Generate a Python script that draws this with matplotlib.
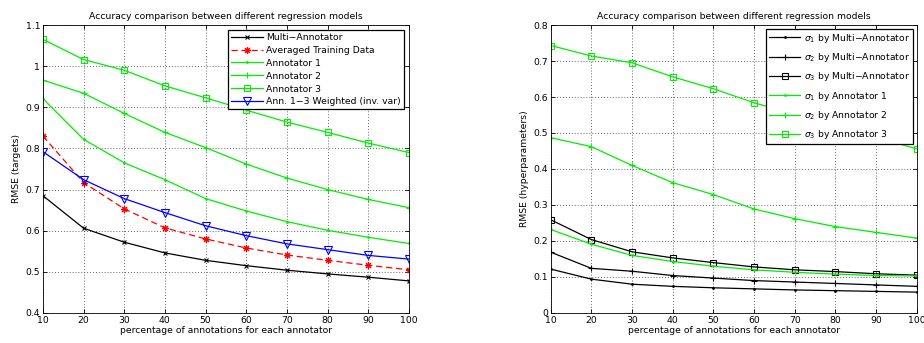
import matplotlib
matplotlib.use('Agg')
import matplotlib.pyplot as plt

pct = [10, 20, 30, 40, 50, 60, 70, 80, 90, 100]

# left panel: RMSE on targets
multi_ann = [0.685, 0.606, 0.572, 0.546, 0.528, 0.515, 0.504, 0.495, 0.487, 0.478]
averaged = [0.830, 0.717, 0.653, 0.607, 0.580, 0.558, 0.541, 0.528, 0.516, 0.505]
ann1 = [0.921, 0.822, 0.765, 0.724, 0.678, 0.648, 0.622, 0.601, 0.584, 0.569]
ann2 = [0.966, 0.934, 0.885, 0.839, 0.802, 0.762, 0.728, 0.700, 0.676, 0.656]
ann3 = [1.065, 1.016, 0.990, 0.952, 0.923, 0.893, 0.864, 0.839, 0.813, 0.790]
weighted = [0.792, 0.724, 0.678, 0.644, 0.612, 0.588, 0.568, 0.554, 0.540, 0.531]

# right panel: RMSE on hyperparameters
s1_multi = [0.122, 0.094, 0.080, 0.074, 0.070, 0.067, 0.064, 0.062, 0.060, 0.058]
s2_multi = [0.169, 0.124, 0.116, 0.104, 0.097, 0.090, 0.086, 0.082, 0.078, 0.074]
s3_multi = [0.259, 0.204, 0.170, 0.153, 0.140, 0.128, 0.120, 0.115, 0.109, 0.105]
s1_ann1 = [0.232, 0.191, 0.160, 0.143, 0.130, 0.120, 0.113, 0.108, 0.104, 0.103]
s2_ann2 = [0.487, 0.462, 0.410, 0.362, 0.329, 0.289, 0.262, 0.240, 0.224, 0.208]
s3_ann3 = [0.743, 0.714, 0.695, 0.656, 0.623, 0.584, 0.552, 0.520, 0.488, 0.456]

FS = 6.7
GREEN = '#00ee00'
MINUS = '\u2212'
plt.rcParams['font.family'] = ['DejaVu Sans']
plt.rcParams['mathtext.fontset'] = 'dejavusans'

fig = plt.figure(figsize=(9.24, 3.43), dpi=100)
ax1 = fig.add_axes([0.0465, 0.0875, 0.396, 0.8396])
ax2 = fig.add_axes([0.596, 0.0875, 0.396, 0.8396])

lw = 0.9
ax1.plot(pct, multi_ann, color='black', lw=lw, marker='x', ms=3.5, mew=0.8, label='Multi' + MINUS + 'Annotator')
ax1.plot(pct, averaged, color='red', lw=lw, ls=(0, (5, 3)), marker=(8, 2, 0), ms=5, mew=0.8,
         label='Averaged Training Data')
ax1.plot(pct, ann1, color=GREEN, lw=lw, marker='.', ms=2, label='Annotator 1')
ax1.plot(pct, ann2, color=GREEN, lw=lw, marker='+', ms=5, mew=0.8, label='Annotator 2')
ax1.plot(pct, ann3, color=GREEN, lw=lw, marker='s', ms=4.5, mfc='none', mew=0.8, label='Annotator 3')
ax1.plot(pct, weighted, color='blue', lw=lw, marker='v', ms=5.5, mfc='none', mew=0.8,
         label='Ann. 1' + MINUS + '3 Weighted (inv. var)')
ax1.set_ylim(0.4, 1.1)
ax1.set_yticks([0.4, 0.5, 0.6, 0.7, 0.8, 0.9, 1.0, 1.1])
ax1.set_yticklabels(['0.4', '0.5', '0.6', '0.7', '0.8', '0.9', '1', '1.1'])
ax1.set_ylabel('RMSE (targets)', fontsize=FS, labelpad=3)
leg1 = ax1.legend(loc='upper right', fontsize=FS, handlelength=3.4, borderpad=0.3,
                  labelspacing=0.42, handletextpad=0.4, fancybox=False, framealpha=1,
                  borderaxespad=0.55)
leg1.get_frame().set_edgecolor('black')
leg1.get_frame().set_linewidth(0.9)

ax2.plot(pct, s1_multi, color='black', lw=lw, marker='.', ms=2,
         label='$\\sigma_1$ by Multi' + MINUS + 'Annotator')
ax2.plot(pct, s2_multi, color='black', lw=lw, marker='+', ms=5, mew=0.8,
         label='$\\sigma_2$ by Multi' + MINUS + 'Annotator')
ax2.plot(pct, s3_multi, color='black', lw=lw, marker='s', ms=4.5, mfc='none', mew=0.8,
         label='$\\sigma_3$ by Multi' + MINUS + 'Annotator')
ax2.plot(pct, s1_ann1, color=GREEN, lw=lw, marker='.', ms=2, label='$\\sigma_1$ by Annotator 1')
ax2.plot(pct, s2_ann2, color=GREEN, lw=lw, marker='+', ms=5, mew=0.8, label='$\\sigma_2$ by Annotator 2')
ax2.plot(pct, s3_ann3, color=GREEN, lw=lw, marker='s', ms=4.5, mfc='none', mew=0.8,
         label='$\\sigma_3$ by Annotator 3')
ax2.set_ylim(0, 0.8)
ax2.set_yticks([0, 0.1, 0.2, 0.3, 0.4, 0.5, 0.6, 0.7, 0.8])
ax2.set_yticklabels(['0', '0.1', '0.2', '0.3', '0.4', '0.5', '0.6', '0.7', '0.8'])
ax2.set_ylabel('RMSE (hyperparameters)', fontsize=FS, labelpad=3)
leg2 = ax2.legend(loc='upper right', fontsize=FS, handlelength=3.4, borderpad=0.3,
                  labelspacing=0.68, handletextpad=0.4, fancybox=False, framealpha=1,
                  borderaxespad=0.4)
leg2.get_frame().set_edgecolor('black')
leg2.get_frame().set_linewidth(0.9)

for ax in (ax1, ax2):
    ax.set_xlim(10, 100)
    ax.set_xticks(pct)
    ax.set_title('Accuracy comparison between different regression models', fontsize=FS, pad=4)
    ax.set_xlabel('percentage of annotations for each annotator', fontsize=FS, labelpad=1)
    ax.tick_params(labelsize=FS, direction='in', length=3, width=0.6, top=True, right=True, pad=2)
    ax.grid(True, ls=(0, (1, 2.5)), color='#333333', lw=0.6)
    for sp in ax.spines.values():
        sp.set_linewidth(0.6)

fig.savefig('out.png', dpi=100)
